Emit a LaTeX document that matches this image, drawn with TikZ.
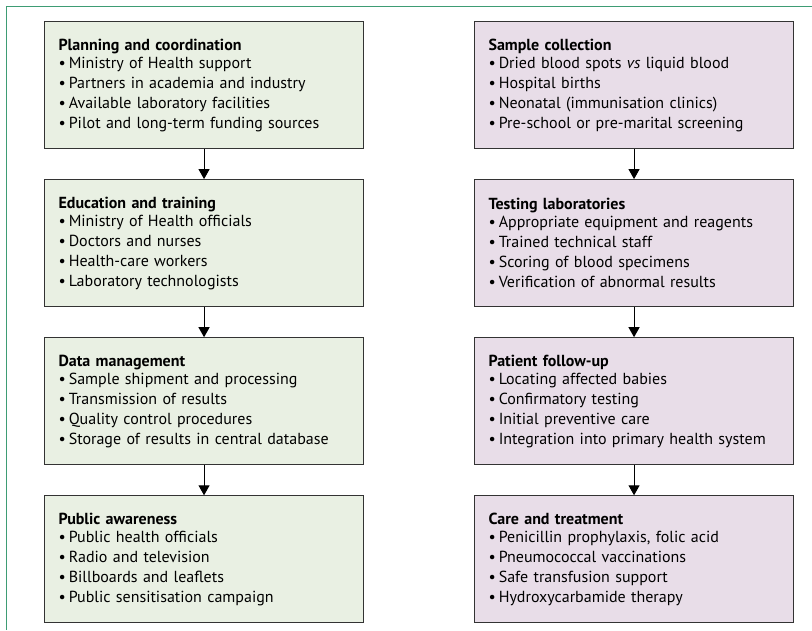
\documentclass[tikz,border=0pt]{standalone}
\usepackage{fontspec}
\setmainfont{PT Sans}
\usetikzlibrary{positioning,arrows.meta}

\definecolor{framegreen}{RGB}{62,156,116}
\definecolor{boxgreen}{RGB}{233,240,227}
\definecolor{boxpurple}{RGB}{232,221,232}

\tikzset{
    stage/.style={draw=black!80,line width=1.1pt,minimum width=319pt,minimum height=127pt,
        text width=291pt,inner xsep=14pt,align=left,font=\fontsize{16}{20}\selectfont},
    greenstage/.style={stage,fill=boxgreen},
    purplestage/.style={stage,fill=boxpurple},
    flow/.style={-{Triangle[width=11pt,length=10pt]},line width=1.1pt}
}
% heading of a box, then one bullet per line
\newcommand{\hd}[1]{\textbf{#1}\\[-2pt]\textbullet\kern3pt}
\newcommand{\pt}{\\\textbullet\kern3pt}

\begin{document}
\begin{tikzpicture}[x=1pt,y=1pt,node distance=30pt]
    \useasboundingbox (0,0) rectangle (812,-630);
    \draw[framegreen,line width=1.6pt] (812,-6.5)--(6.5,-6.5)--(6.5,-630);
    % left column
    \node[greenstage,anchor=north west] (planning) at (44,-21)
        {\hd{Planning and coordination}Ministry of Health support\pt Partners in academia and industry\pt Available laboratory facilities\pt Pilot and long-term funding sources};
    \node[greenstage,below=of planning] (training)
        {\hd{Education and training}Ministry of Health officials\pt Doctors and nurses\pt Health-care workers\pt Laboratory technologists};
    \node[greenstage,below=of training] (data)
        {\hd{Data management}Sample shipment and processing\pt Transmission of results\pt Quality control procedures\pt Storage of results in central database};
    \node[greenstage,below=of data] (awareness)
        {\hd{Public awareness}Public health officials\pt Radio and television\pt Billboards and leaflets\pt Public sensitisation campaign};
    % right column
    \node[purplestage,anchor=north west] (collection) at (474,-21)
        {\hd{Sample collection}Dried blood spots \textit{vs} liquid blood\pt Hospital births\pt Neonatal (immunisation clinics)\pt Pre-school or pre-marital screening};
    \node[purplestage,below=of collection] (testing)
        {\hd{Testing laboratories}Appropriate equipment and reagents\pt Trained technical staff\pt Scoring of blood specimens\pt Verification of abnormal results};
    \node[purplestage,below=of testing] (followup)
        {\hd{Patient follow-up}Locating affected babies\pt Confirmatory testing\pt Initial preventive care\pt Integration into primary health system};
    \node[purplestage,below=of followup] (care)
        {\hd{Care and treatment}Penicillin prophylaxis, folic acid\pt Pneumococcal vaccinations\pt Safe transfusion support\pt Hydroxycarbamide therapy};
    % arrows
    \draw[flow] (planning)--(training);
    \draw[flow] (training)--(data);
    \draw[flow] (data)--(awareness);
    \draw[flow] (collection)--(testing);
    \draw[flow] (testing)--(followup);
    \draw[flow] (followup)--(care);
\end{tikzpicture}
\end{document}
